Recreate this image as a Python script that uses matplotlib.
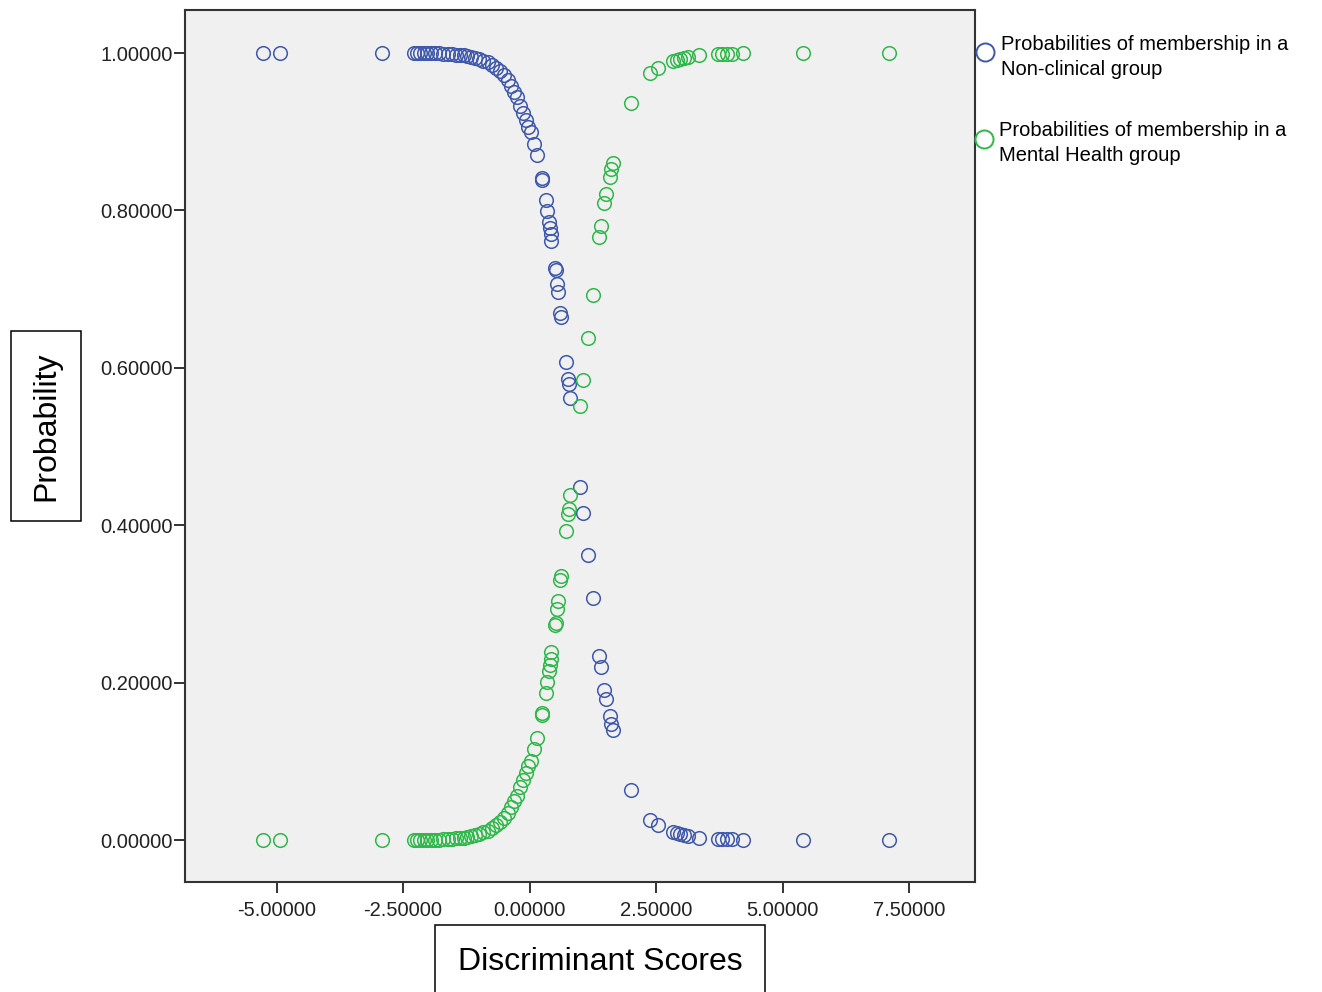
import matplotlib
matplotlib.use("Agg")
import matplotlib.pyplot as plt
from matplotlib.lines import Line2D

plt.rcParams['font.family'] = ['Liberation Sans', 'DejaVu Sans']

# ---- data ----
discriminant_scores = [
    -5.26, -4.94, -2.92, -2.29, -2.23, -2.17, -2.09, -2.02, -1.94, -1.86,
    -1.78, -1.70, -1.62, -1.54, -1.46, -1.38, -1.30, -1.23, -1.15, -1.07,
    -0.99, -0.91, -0.83, -0.75, -0.67, -0.59, -0.51, -0.43, -0.36, -0.30,
    -0.24, -0.18, -0.12, -0.06, -0.02, 0.02, 0.08, 0.14, 0.24, 0.25,
    0.32, 0.34, 0.38, 0.40, 0.42, 0.43, 0.51, 0.52, 0.55, 0.57,
    0.61, 0.63, 0.73, 0.76, 0.78, 0.81, 0.99, 1.05, 1.15, 1.25,
    1.38, 1.42, 1.48, 1.52, 1.60, 1.62, 1.66, 2.00, 2.39, 2.53,
    2.83, 2.91, 2.98, 3.06, 3.14, 3.34, 3.72, 3.81, 3.91, 4.01,
    4.21, 5.40, 7.11,
]
prob_nonclinical = [
    1.000, 1.000, 0.9999, 0.9999, 0.9999, 0.9999, 0.9998, 0.9998, 0.9997, 0.9996,
    0.9995, 0.999, 0.999, 0.999, 0.998, 0.998, 0.997, 0.996, 0.995, 0.994,
    0.992, 0.990, 0.988, 0.985, 0.981, 0.977, 0.972, 0.966, 0.958, 0.951,
    0.944, 0.933, 0.924, 0.915, 0.906, 0.900, 0.884, 0.870, 0.841, 0.839,
    0.813, 0.799, 0.785, 0.778, 0.770, 0.761, 0.727, 0.724, 0.706, 0.696,
    0.669, 0.664, 0.608, 0.586, 0.580, 0.561, 0.449, 0.416, 0.362, 0.307,
    0.234, 0.220, 0.190, 0.179, 0.157, 0.148, 0.140, 0.064, 0.026, 0.019,
    0.010, 0.009, 0.007, 0.006, 0.005, 0.003, 0.001, 0.001, 0.001, 0.001,
    0.000, 0.000, 0.000,
]
prob_mental_health = [
    0.000, 0.000, 0.0001, 0.0001, 0.0001, 0.0001, 0.0002, 0.0002, 0.0003, 0.0004,
    0.0005, 0.001, 0.001, 0.001, 0.002, 0.002, 0.003, 0.004, 0.005, 0.006,
    0.008, 0.010, 0.012, 0.015, 0.019, 0.023, 0.028, 0.034, 0.042, 0.049,
    0.056, 0.067, 0.076, 0.085, 0.094, 0.100, 0.116, 0.130, 0.159, 0.161,
    0.187, 0.201, 0.215, 0.222, 0.230, 0.239, 0.273, 0.276, 0.294, 0.304,
    0.331, 0.336, 0.392, 0.414, 0.420, 0.439, 0.551, 0.584, 0.638, 0.693,
    0.766, 0.780, 0.810, 0.821, 0.843, 0.852, 0.860, 0.936, 0.974, 0.981,
    0.990, 0.991, 0.993, 0.994, 0.995, 0.997, 0.999, 0.999, 0.999, 0.999,
    1.000, 1.000, 1.000,
]
x_ticks = [-5.0, -2.5, 0.0, 2.5, 5.0, 7.5]
y_ticks = [0.0, 0.2, 0.4, 0.6, 0.8, 1.0]
legend_labels = ["Probabilities of membership in a\nNon-clinical group",
                 "Probabilities of membership in a\nMental Health group"]

BLUE = "#3E58AC"
GREEN = "#2EB848"
W, H = 1322, 992

fig = plt.figure(figsize=(W / 100, H / 100), dpi=100)
ax = fig.add_axes([185 / W, 1 - 882 / H, (975 - 185) / W, (882 - 10) / H])
ax.set_facecolor("#F0F0F0")

ax.plot(discriminant_scores, prob_nonclinical, linestyle="none", marker="o",
        markersize=9.8, markerfacecolor="none", markeredgecolor=BLUE, markeredgewidth=1.1)
ax.plot(discriminant_scores, prob_mental_health, linestyle="none", marker="o",
        markersize=9.8, markerfacecolor="none", markeredgecolor=GREEN, markeredgewidth=1.1)

px_per_unit = 50.6
x0 = 529.5
ax.set_xlim((185 - x0) / px_per_unit, (975 - x0) / px_per_unit)
ax.set_ylim((840 - 882) / 787, (840 - 10) / 787)

ax.set_xticks(x_ticks)
ax.set_xticklabels([f"{v:.5f}" for v in x_ticks])
ax.set_yticks(y_ticks)
ax.set_yticklabels([f"{v:.5f}" for v in y_ticks])
ax.tick_params(axis="both", direction="out", length=8, width=1.4, color="#333333",
               labelsize=14.5, labelcolor="#222222")
ax.tick_params(axis="x", pad=6)
ax.tick_params(axis="y", pad=1)
for s in ax.spines.values():
    s.set_color("#333333")
    s.set_linewidth(1.5)

# boxed axis titles
fig.text(46 / W, 1 - 426 / H, "Probability", rotation=90, fontsize=23,
         ha="center", va="center",
         bbox=dict(boxstyle="square,pad=0.62", facecolor="white", edgecolor="black", linewidth=1.1))
fig.text(600 / W, 1 - 962 / H, "Discriminant Scores", fontsize=23,
         ha="center", va="center",
         bbox=dict(boxstyle="square,pad=0.7", facecolor="white", edgecolor="black", linewidth=1.1))

# legend drawn at the right
for (mx, my, tx, ty, col, lab) in [(985, 52, 1001, 57, BLUE, legend_labels[0]),
                                   (984, 139, 999, 143, GREEN, legend_labels[1])]:
    fig.add_artist(Line2D([mx / W], [1 - my / H], transform=fig.transFigure,
                          marker="o", markersize=13, markerfacecolor="none",
                          markeredgecolor=col, markeredgewidth=1.4, linestyle="none"))
    fig.text(tx / W, 1 - ty / H, lab, fontsize=14.5, ha="left", va="center",
             linespacing=1.35, color="black")

fig.savefig("out.png", dpi=100, facecolor="white")
